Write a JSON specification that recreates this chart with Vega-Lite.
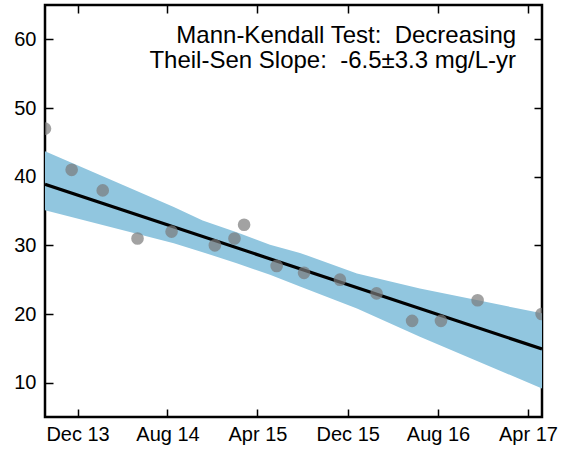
{
  "$schema": "https://vega.github.io/schema/vega-lite/v6.json",
  "width": 497,
  "height": 412,
  "autosize": "none",
  "padding": {"left": 45, "top": 5, "right": 24, "bottom": 33},
  "background": "white",
  "config": {
    "view": {"stroke": "black", "strokeWidth": 2.5},
    "font": "Liberation Sans",
    "axis": {
      "domain": false,
      "grid": false,
      "ticks": true,
      "tickSize": -8,
      "tickWidth": 1.5,
      "tickColor": "black",
      "labelFontSize": 20,
      "labelColor": "black",
      "labelFont": "Liberation Sans",
      "title": null
    }
  },
  "datasets": {
    "pts": [
      {"date": "2013-09-04T00:00:00", "value": 47},
      {"date": "2013-11-15T00:00:00", "value": 41},
      {"date": "2014-02-07T00:00:00", "value": 38},
      {"date": "2014-05-12T00:00:00", "value": 31},
      {"date": "2014-08-12T00:00:00", "value": 32},
      {"date": "2014-12-07T00:00:00", "value": 30},
      {"date": "2015-01-29T00:00:00", "value": 31},
      {"date": "2015-02-24T00:00:00", "value": 33},
      {"date": "2015-05-23T00:00:00", "value": 27},
      {"date": "2015-08-05T00:00:00", "value": 26},
      {"date": "2015-11-10T00:00:00", "value": 25},
      {"date": "2016-02-17T00:00:00", "value": 23},
      {"date": "2016-05-23T00:00:00", "value": 19},
      {"date": "2016-08-09T00:00:00", "value": 19},
      {"date": "2016-11-16T00:00:00", "value": 22},
      {"date": "2017-05-08T00:00:00", "value": 20}
    ],
    "band": [
      {"date": "2013-09-04T00:00:00", "lo": 35.1, "hi": 43.7},
      {"date": "2014-08-18T00:00:00", "lo": 30.3, "hi": 35.6},
      {"date": "2014-11-04T00:00:00", "lo": 29.0, "hi": 33.6},
      {"date": "2015-02-04T00:00:00", "lo": 27.4, "hi": 31.9},
      {"date": "2015-05-05T00:00:00", "lo": 25.7, "hi": 30.1},
      {"date": "2015-07-25T00:00:00", "lo": 24.0, "hi": 28.9},
      {"date": "2015-12-26T00:00:00", "lo": 20.8, "hi": 25.9},
      {"date": "2016-06-13T00:00:00", "lo": 16.7, "hi": 23.7},
      {"date": "2017-05-09T00:00:00", "lo": 9.15, "hi": 20.1}
    ],
    "trend": [
      {"date": "2013-09-04T00:00:00", "value": 38.9},
      {"date": "2017-05-09T00:00:00", "value": 14.9}
    ],
    "labels": [
      {"date": "2017-02-28T00:00:00", "value": 59.5, "text": "Mann-Kendall Test:\u00a0 Decreasing"},
      {"date": "2017-02-28T00:00:00", "value": 55.85, "text": "Theil-Sen Slope:\u00a0 -6.5±3.3 mg/L-yr"}
    ]
  },
  "layer": [
    {
      "data": {"name": "band"},
      "mark": {"type": "area", "color": "#91c6df", "clip": true},
      "encoding": {
        "x": {
          "field": "date", "type": "temporal",
          "scale": {"domain": [{"year": 2013, "month": 9, "date": 4}, {"year": 2017, "month": 5, "date": 9}], "nice": false},
          "axis": {
            "orient": "bottom",
            "format": "%b %y",
            "labelPadding": 15,
            "values": [
              {"year": 2013, "month": 12, "date": 1},
              {"year": 2014, "month": 8, "date": 1},
              {"year": 2015, "month": 4, "date": 1},
              {"year": 2015, "month": 12, "date": 1},
              {"year": 2016, "month": 8, "date": 1},
              {"year": 2017, "month": 4, "date": 1}
            ]
          }
        },
        "y": {
          "field": "lo", "type": "quantitative",
          "scale": {"domain": [5, 65], "nice": false, "zero": false},
          "axis": {"orient": "left", "values": [10, 20, 30, 40, 50, 60], "labelPadding": 17}
        },
        "y2": {"field": "hi"}
      }
    },
    {
      "data": {"name": "trend"},
      "mark": {"type": "line", "color": "black", "strokeWidth": 3.2, "clip": true},
      "encoding": {
        "x": {
          "field": "date", "type": "temporal",
          "scale": {"domain": [{"year": 2013, "month": 9, "date": 4}, {"year": 2017, "month": 5, "date": 9}], "nice": false},
          "axis": {
            "orient": "top",
            "labels": false,
            "values": [
              {"year": 2013, "month": 12, "date": 1},
              {"year": 2014, "month": 8, "date": 1},
              {"year": 2015, "month": 4, "date": 1},
              {"year": 2015, "month": 12, "date": 1},
              {"year": 2016, "month": 8, "date": 1},
              {"year": 2017, "month": 4, "date": 1}
            ]
          }
        },
        "y": {
          "field": "value", "type": "quantitative",
          "scale": {"domain": [5, 65], "nice": false, "zero": false},
          "axis": {"orient": "right", "labels": false, "values": [10, 20, 30, 40, 50, 60]}
        }
      }
    },
    {
      "data": {"name": "pts"},
      "mark": {"type": "circle", "color": "#7a7a7a", "opacity": 0.7, "size": 160, "clip": true},
      "encoding": {
        "x": {
          "field": "date", "type": "temporal",
          "scale": {"domain": [{"year": 2013, "month": 9, "date": 4}, {"year": 2017, "month": 5, "date": 9}], "nice": false},
          "axis": null
        },
        "y": {
          "field": "value", "type": "quantitative",
          "scale": {"domain": [5, 65], "nice": false, "zero": false},
          "axis": null
        }
      }
    },
    {
      "data": {"name": "labels"},
      "mark": {"type": "text", "align": "right", "baseline": "alphabetic", "fontSize": 24, "font": "Liberation Sans", "color": "black"},
      "encoding": {
        "x": {
          "field": "date", "type": "temporal",
          "scale": {"domain": [{"year": 2013, "month": 9, "date": 4}, {"year": 2017, "month": 5, "date": 9}], "nice": false},
          "axis": null
        },
        "y": {
          "field": "value", "type": "quantitative",
          "scale": {"domain": [5, 65], "nice": false, "zero": false},
          "axis": null
        },
        "text": {"field": "text"}
      }
    }
  ],
  "resolve": {"axis": {"x": "independent", "y": "independent"}}
}
